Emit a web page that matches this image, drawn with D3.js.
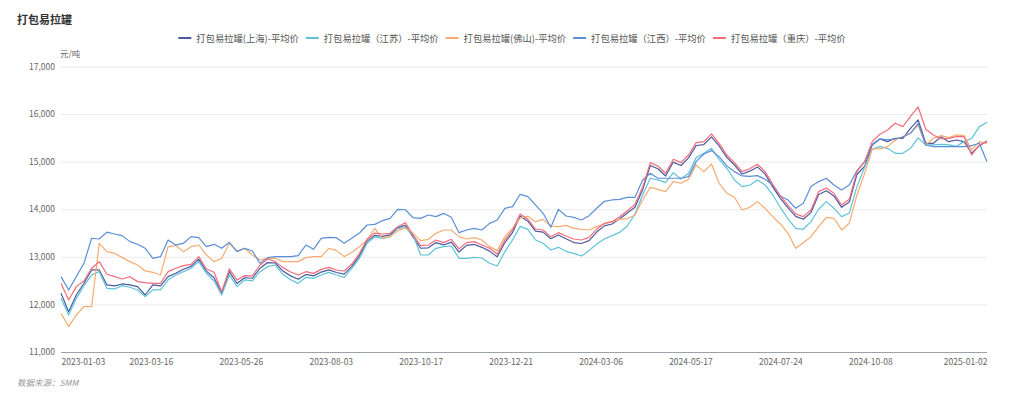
<!DOCTYPE html>
<html><head><meta charset="utf-8">
<script src="https://cdn.jsdelivr.net/npm/d3@7"></script>
<style>
html,body{margin:0;padding:0;background:#fff;}
svg{display:block;font-family:"Noto Sans CJK SC","Noto Sans",sans-serif;}
</style></head>
<body><svg id="c" width="1024" height="399"></svg>
<script>
// x-axis tick labels (trading-day category labels) and their trading-day index
const tickLabels = ["2023-01-03","2023-03-16","2023-05-26","2023-08-03","2023-10-17","2023-12-21","2024-03-06","2024-05-17","2024-07-24","2024-10-08","2025-01-02"];
const tickIndex = [0,47,94,141,188,235,282,329,376,423,484];
// series sampled every 4 trading days (index 0..484)
const sampleStep = 4;
const seriesNames = ["打包易拉罐(上海)-平均价","打包易拉罐（江苏）-平均价","打包易拉罐(佛山)-平均价","打包易拉罐（江西）-平均价","打包易拉罐（重庆）-平均价"];
const shanghai = [12233,11848,12198,12444,12724,12724,12409,12388,12430,12409,12374,12198,12409,12388,12584,12654,
12740,12800,12950,12700,12560,12240,12690,12440,12560,12550,12760,12880,12870,12700,12600,
12530,12630,12600,12680,12725,12670,12635,12800,13020,13330,13450,13430,13460,13615,13660,
13420,13180,13190,13300,13250,13310,13100,13240,13260,13200,13120,13000,13300,13510,13860,
13750,13540,13520,13380,13460,13380,13300,13280,13340,13520,13650,13690,13800,13920,14040,
14410,14920,14850,14700,14990,14920,15080,15340,15360,15520,15330,15090,14930,14740,14800,
14890,14740,14470,14230,14030,13850,13790,13930,14310,14390,14280,14040,14150,14730,14900,
15351,15477,15421,15491,15491,15701,15877,15386,15386,15526,15421,15456,15421,15176,15337,15435];
const jiangsu = [12128,11778,12128,12395,12619,12689,12339,12325,12395,12360,12304,12163,12304,12304,12514,12619,
12689,12759,12899,12654,12493,12198,12619,12374,12514,12493,12689,12794,12829,12633,12520,
12443,12569,12548,12618,12674,12618,12569,12758,12969,13284,13420,13389,13424,13599,13610,
13459,13039,13039,13179,13214,13228,12969,12969,12990,12976,12864,12807,13109,13354,13640,
13578,13354,13284,13144,13200,13116,13074,13018,13130,13270,13375,13445,13515,13648,13900,
14300,14651,14616,14560,14770,14637,14756,15085,15176,15281,15050,14861,14616,14476,14505,
14616,14511,14300,14041,13796,13600,13579,13740,13999,14160,14020,13845,13915,14476,14880,
15267,15316,15281,15176,15176,15281,15500,15351,15351,15365,15351,15323,15421,15491,15736,15828];
const foshan = [11813,11533,11778,11953,11953,13284,13109,13074,12983,12899,12829,12703,12675,12619,13214,13240,
13109,13214,13249,13039,12899,12969,13284,13123,13179,13039,12934,12969,12969,12899,12900,
12899,12983,13004,13004,13179,13130,13004,13095,13214,13354,13600,13389,13424,13550,13610,
13494,13340,13368,13494,13564,13564,13424,13375,13403,13354,13214,13130,13424,13599,13815,
13852,13739,13788,13648,13634,13662,13599,13578,13564,13634,13690,13739,13788,13802,13880,
14195,14461,14419,14370,14581,14546,14630,14931,14791,14950,14546,14335,14251,13985,14040,
14160,14020,13845,13691,13495,13180,13298,13424,13635,13831,13810,13565,13705,14300,14750,
15267,15267,15316,15456,15526,15596,15771,15351,15491,15547,15505,15561,15547,15246,15421,15386];
const jiangxi = [12584,12303,12584,12864,13390,13375,13520,13480,13446,13320,13264,13180,12969,13004,13354,13250,
13284,13425,13404,13214,13263,13179,13305,13109,13179,13123,12864,12983,13004,13004,13004,
13025,13249,13158,13389,13410,13403,13284,13389,13501,13669,13683,13760,13809,13999,13990,
13823,13809,13879,13844,13914,13830,13508,13564,13599,13564,13704,13774,14019,14054,14314,
14265,14090,13915,13620,13998,13858,13830,13774,13865,14020,14167,14195,14209,14251,14250,
14616,14756,14651,14651,14651,14651,14686,15001,15162,15232,15106,14910,14791,14700,14690,
14707,14630,14511,14279,14195,14020,14125,14476,14581,14651,14511,14406,14511,14812,15000,
15365,15477,15456,15477,15519,15596,15806,15351,15316,15316,15316,15316,15316,15337,15386,15000];
const chongqing = [12444,12093,12374,12493,12759,12900,12633,12584,12535,12584,12479,12458,12444,12444,12689,12759,
12815,12843,13004,12745,12675,12268,12745,12514,12605,12598,12829,12955,12899,12773,12680,
12618,12688,12653,12737,12779,12723,12702,12849,13074,13368,13500,13480,13494,13634,13718,
13459,13235,13249,13354,13298,13368,13165,13298,13319,13249,13179,13060,13354,13564,13900,
13788,13585,13564,13424,13508,13438,13375,13354,13410,13578,13704,13739,13844,13970,14100,
14461,14980,14910,14756,15050,14980,15141,15400,15421,15583,15386,15141,14980,14791,14850,
14945,14791,14525,14279,14083,13901,13845,13985,14370,14448,14336,14090,14209,14791,15000,
15421,15575,15666,15806,15736,15950,16150,15680,15561,15477,15491,15526,15526,15141,15351,15421];
const yTicks = [11000,12000,13000,14000,15000,16000,17000];
const seriesColors = ["#4c5a9e","#5fc3d8","#f7ab70","#5b8fd8","#f26d7b"];

const svg = d3.select("#c");
const x = d3.scaleLinear().domain([0,484]).range([61,987]);
const y = d3.scaleLinear().domain([11000,17000]).range([352,66.5]);

// title
svg.append("text").attr("x",17).attr("y",24).attr("font-size",11).attr("font-weight","bold").attr("fill","#333").text("打包易拉罐");

// grid
const yAxis = d3.axisLeft(y).tickValues(yTicks).tickFormat(d3.format(",")).tickSize(-(987-61)).tickPadding(6);
const gy = svg.append("g").attr("transform","translate(61,0)").call(yAxis);
gy.select(".domain").remove();
gy.selectAll(".tick line").attr("stroke","#ebebeb").attr("stroke-width",1);
gy.selectAll(".tick text").attr("fill","#666").attr("font-size",8.5).attr("x",-6)
  .attr("font-family","'Noto Sans CJK SC','Noto Sans',sans-serif");
gy.selectAll(".tick").filter(d=>d===11000).select("line").attr("stroke","#9da2aa");

svg.append("text").attr("x",60).attr("y",57).attr("font-size",8.5).attr("fill","#666").text("元/吨");

// x axis labels
const xAxis = d3.axisBottom(x).tickValues(tickIndex).tickFormat((d,i)=>tickLabels[i]).tickSize(0).tickPadding(7);
const gx = svg.append("g").attr("transform","translate(0,352)").call(xAxis);
gx.select(".domain").remove();
gx.selectAll(".tick text").attr("fill","#666").attr("font-size",8.5)
  .attr("font-family","'Noto Sans CJK SC','Noto Sans',sans-serif")
  .attr("text-anchor",(d,i)=> i===0 ? "start" : (i===tickIndex.length-1 ? "end" : "middle"));

// lines
const allSeries = [shanghai,jiangsu,foshan,jiangxi,chongqing];
const line = d3.line().x((d,i)=>x(i*sampleStep)).y(d=>y(d));
allSeries.forEach((s,si)=>{
  svg.append("path").datum(s).attr("d",line).attr("fill","none")
    .attr("stroke",seriesColors[si]).attr("stroke-width",1.2).attr("stroke-linejoin","round");
});

// legend
const lg = svg.append("g");
let cx = 0;
seriesNames.forEach((n,i)=>{
  const g = lg.append("g").attr("transform",`translate(${cx},0)`);
  g.append("line").attr("x1",0).attr("x2",13).attr("y1",38).attr("y2",38).attr("stroke",seriesColors[i]).attr("stroke-width",2);
  const t = g.append("text").attr("x",18).attr("y",41.5).attr("font-size",9.3).attr("fill","#555").text(n);
  cx += 18 + t.node().getComputedTextLength() + 7;
});
const totalW = cx - 7;
lg.attr("transform",`translate(${512 - totalW/2},0)`);

// source
svg.append("text").attr("x",17).attr("y",386).attr("font-size",8.5).attr("font-style","italic").attr("fill","#999").text("数据来源：SMM");
</script></body></html>
